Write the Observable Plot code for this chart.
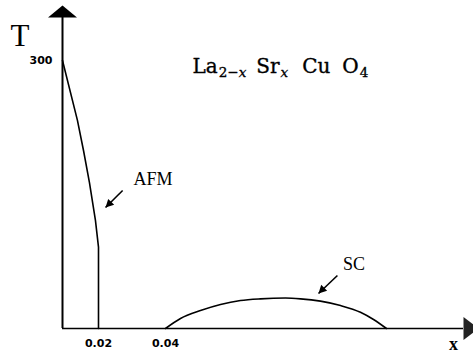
<!DOCTYPE html>
<html>
<head>
<meta charset="utf-8">
<script src="https://cdn.jsdelivr.net/npm/d3@7"></script>
<script src="https://cdn.jsdelivr.net/npm/@observablehq/plot@0.6"></script>
<style>
  html, body { margin: 0; padding: 0; background: #fff; }
  #chart svg { display: block; }
</style>
</head>
<body>
<div id="chart"></div>
<script>
// Schematic phase diagram of La(2-x)Sr(x)CuO4: Néel temperature (AFM) and
// superconducting dome (SC) versus hole doping x.

// Axis ticks
const xTicks = [0.02, 0.04];
const yTicks = [300];

// Antiferromagnetic boundary T_N(x)
const afmX = [0, 0.0083, 0.0117, 0.015, 0.0183, 0.02, 0.02];
const afmT = [300, 233, 199, 163, 121, 91, 0];

// Superconducting dome T_c(x)
const scX = [0.04, 0.0531, 0.0705, 0.088, 0.1054, 0.1229, 0.1447, 0.1578, 0.1752, 0.1927, 0.2101, 0.2215, 0.2328];
const scT = [0, 11.2, 20.1, 26.9, 31.3, 33.2, 34.1, 33.2, 30.6, 25.7, 18.2, 10.1, 0];

// Axis extents (arrow tips) in data units
const xAxisEnd = 0.3;
const yAxisEnd = 348;

// Annotation labels and their pointer arrows
const labels = ["AFM", "SC"];
const labelX = [0.0363, 0.2045];
const labelT = [166.6, 71.4];
const arrowFromX = [0.0272, 0.190];
const arrowFromT = [154.5, 59.3];
const arrowToX = [0.0221, 0.1735];
const arrowToT = [135.4, 39.2];

const afm = afmX.map((x, i) => ({x, T: afmT[i]}));
const sc = scX.map((x, i) => ({x, T: scT[i]}));
const notes = labels.map((text, i) => ({
  text, x: labelX[i], T: labelT[i],
  x1: arrowFromX[i], T1: arrowFromT[i], x2: arrowToX[i], T2: arrowToT[i]
}));

// Filled triangular heads as custom d3 symbols (anchored at the tip)
function pointer(dx, dy, len, half) {
  const n = Math.hypot(dx, dy), ux = dx / n, uy = dy / n;
  return {
    draw(ctx) {
      const bx = -ux * len, by = -uy * len;
      ctx.moveTo(0, 0);
      ctx.lineTo(bx - uy * half, by + ux * half);
      ctx.lineTo(bx + uy * half, by - ux * half);
      ctx.closePath();
    }
  };
}
const upHead = {draw(ctx) { ctx.moveTo(0, -12); ctx.lineTo(14.5, 0); ctx.lineTo(-14.5, 0); ctx.closePath(); }};
const rightHead = {draw(ctx) { ctx.moveTo(15, 0); ctx.lineTo(0, 11.5); ctx.lineTo(0, -11.5); ctx.closePath(); }};
const noteHead = pointer(-1, 1, 8, 4.2);

const serif = "Liberation Serif, Times New Roman, serif";

const chart = Plot.plot({
  width: 473,
  height: 352,
  marginTop: 60,
  marginRight: 10,
  marginBottom: 24,
  marginLeft: 62,
  x: {type: "linear", domain: [0, 0.02, 0.04, xAxisEnd], range: [62, 98, 165, 463]},
  y: {domain: [0, 300], range: [328, 60]},
  style: {background: "#fff", overflow: "visible"},
  marks: [
    Plot.axisX({ticks: xTicks, tickSize: 0, tickPadding: 11, tickFormat: d3.format(".2f"),
      fontFamily: "DejaVu Sans", fontWeight: "bold", fontSize: 11, label: null, letterSpacing: 0.8}),
    Plot.axisY({ticks: yTicks, tickSize: 0, tickPadding: 10,
      fontFamily: "DejaVu Sans", fontWeight: "bold", fontSize: 11, label: null}),
    // axes with arrow heads
    Plot.ruleX([{x: 0}], {x: "x", y1: 0, y2: yAxisEnd, stroke: "#000", strokeWidth: 2}),
    Plot.ruleY([{T: 0}], {y: "T", x1: 0, x2: xAxisEnd, stroke: "#000", strokeWidth: 1.6}),
    Plot.dot([{x: 0, T: yAxisEnd}], {x: "x", y: "T", symbol: upHead, fill: "#000", stroke: null}),
    Plot.dot([{x: xAxisEnd, T: 0}], {x: "x", y: "T", symbol: rightHead, fill: "#222", stroke: null}),
    // phase boundaries
    Plot.line(afm, {x: "x", y: "T", stroke: "#000", strokeWidth: 1.6, curve: "linear"}),
    Plot.line(sc, {x: "x", y: "T", stroke: "#000", strokeWidth: 1.6, curve: "monotone-x"}),
    // labels with pointers
    Plot.link(notes, {x1: "x1", y1: "T1", x2: "x2", y2: "T2", stroke: "#000", strokeWidth: 1.6}),
    Plot.dot(notes, {x: "x2", y: "T2", symbol: noteHead, fill: "#000", stroke: null}),
    Plot.text(notes, {x: "x", y: "T", text: "text", fontFamily: serif, fontSize: 18, fill: "#000"}),
    // axis names
    Plot.text(["T"], {frameAnchor: "top-left", textAnchor: "start", lineAnchor: "bottom", dx: -52, dy: -15,
      fontFamily: serif, fontSize: 31, fill: "#000"}),
    Plot.text(["x"], {frameAnchor: "bottom-right", textAnchor: "middle", lineAnchor: "bottom", dx: -10, dy: 21,
      fontFamily: serif, fontWeight: "bold", fontSize: 18, fill: "#000"}),
    // compound formula
    Plot.text(["La2-x Srx Cu O4"], {frameAnchor: "top-left", textAnchor: "start", lineAnchor: "bottom", dx: 130, dy: 12,
      fontFamily: "DejaVu Serif", fontSize: 20, fill: "#000", stroke: "#000", strokeWidth: 0.35, className: "formula"})
  ]
});

// Typeset the formula with subscripts and wide gaps between the elements
const ft = d3.select(chart).select(".formula text");
ft.text(null);
const parts = [
  ["La", 0, false, false], ["2\u2212", 1, true, false], ["x", 0, true, true],
  ["Sr", 10, false, false], ["x", 1, true, true],
  ["Cu", 14, false, false], ["O", 12, false, false], ["4", 1, true, false]
];
for (const [s, gap, sub, it] of parts) {
  const t = ft.append("tspan").text(s).attr("dx", gap);
  if (sub) t.attr("font-size", 13.5).attr("baseline-shift", "-4");
  if (it) t.attr("font-style", "italic");
}

document.getElementById("chart").appendChild(chart);
</script>
</body>
</html>
